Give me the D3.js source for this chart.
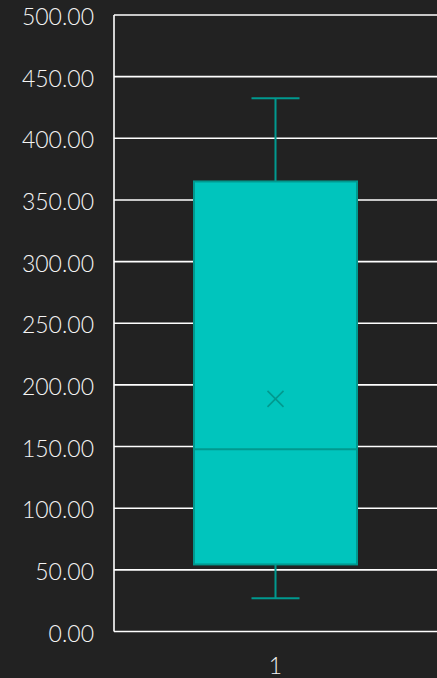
<!DOCTYPE html>
<html>
<head>
<meta charset="utf-8">
<script src="https://cdn.jsdelivr.net/npm/d3@7"></script>
<style>
  html, body { margin: 0; padding: 0; background: #222222; }
  svg { display: block; }
</style>
</head>
<body>
<script>
// box plot summary
var categories = ["1"];
var whiskerLow = [26.9];
var q1 = [54.4];
var median = [147.8];
var mean = [188.7];
var q3 = [365.0];
var whiskerHigh = [432.5];
var yTicks = [0, 50, 100, 150, 200, 250, 300, 350, 400, 450, 500];

var width = 437, height = 678;
var margin = {top: 15, right: 0, bottom: 46, left: 114};

var svg = d3.select("body").append("svg")
    .attr("width", width)
    .attr("height", height);

var x = d3.scaleBand()
    .domain(categories)
    .range([margin.left, width - margin.right])
    .paddingInner(0)
    .paddingOuter(0);

var y = d3.scaleLinear()
    .domain([0, 500])
    .range([height - margin.bottom - 0.5, margin.top]);

var fontFam = "'Century Gothic', 'Lato', 'Open Sans', sans-serif";

// gridlines
svg.append("g")
    .selectAll("line")
    .data(yTicks)
    .enter()
    .append("line")
    .attr("x1", margin.left)
    .attr("x2", width)
    .attr("y1", function(d) { return y(d); })
    .attr("y2", function(d) { return y(d); })
    .attr("stroke", "#ffffff")
    .attr("stroke-width", 1.6);

// y axis line
svg.append("line")
    .attr("x1", margin.left)
    .attr("x2", margin.left)
    .attr("y1", y(500))
    .attr("y2", y(0))
    .attr("stroke", "#ffffff")
    .attr("stroke-width", 1.6);

// y labels
svg.append("g")
    .selectAll("text")
    .data(yTicks)
    .enter()
    .append("text")
    .attr("x", 94)
    .attr("y", function(d) { return y(d) + 2; })
    .attr("dy", "0.35em")
    .attr("text-anchor", "end")
    .attr("fill", "#f4f4f4")
    .attr("font-family", fontFam)
    .attr("font-weight", 300)
    .attr("font-size", 23)
    .text(function(d) { return d3.format(".2f")(d); });

// x labels
svg.append("g")
    .selectAll("text")
    .data(categories)
    .enter()
    .append("text")
    .attr("x", function(d) { return x(d) + x.bandwidth() / 2; })
    .attr("y", 666)
    .attr("dy", "0.35em")
    .attr("text-anchor", "middle")
    .attr("fill", "#f4f4f4")
    .attr("font-family", fontFam)
    .attr("font-weight", 300)
    .attr("font-size", 23)
    .text(function(d) { return d; });

var boxW = 163, capW = 48;
var stroke = "#00998f";

var box = svg.append("g")
    .selectAll("g")
    .data(categories)
    .enter()
    .append("g");

// whiskers
box.append("line")
    .attr("x1", function(d) { return x(d) + x.bandwidth() / 2; })
    .attr("x2", function(d) { return x(d) + x.bandwidth() / 2; })
    .attr("y1", function(d, i) { return y(whiskerHigh[i]); })
    .attr("y2", function(d, i) { return y(whiskerLow[i]); })
    .attr("stroke", stroke)
    .attr("stroke-width", 2);

box.append("line")
    .attr("x1", function(d) { return x(d) + x.bandwidth() / 2 - capW / 2; })
    .attr("x2", function(d) { return x(d) + x.bandwidth() / 2 + capW / 2; })
    .attr("y1", function(d, i) { return y(whiskerHigh[i]); })
    .attr("y2", function(d, i) { return y(whiskerHigh[i]); })
    .attr("stroke", stroke)
    .attr("stroke-width", 2);

box.append("line")
    .attr("x1", function(d) { return x(d) + x.bandwidth() / 2 - capW / 2; })
    .attr("x2", function(d) { return x(d) + x.bandwidth() / 2 + capW / 2; })
    .attr("y1", function(d, i) { return y(whiskerLow[i]); })
    .attr("y2", function(d, i) { return y(whiskerLow[i]); })
    .attr("stroke", stroke)
    .attr("stroke-width", 2);

// box
box.append("rect")
    .attr("x", function(d) { return x(d) + x.bandwidth() / 2 - boxW / 2; })
    .attr("width", boxW)
    .attr("y", function(d, i) { return y(q3[i]); })
    .attr("height", function(d, i) { return y(q1[i]) - y(q3[i]); })
    .attr("fill", "#00c5bd")
    .attr("stroke", stroke)
    .attr("stroke-width", 2);

// median
box.append("line")
    .attr("x1", function(d) { return x(d) + x.bandwidth() / 2 - boxW / 2; })
    .attr("x2", function(d) { return x(d) + x.bandwidth() / 2 + boxW / 2; })
    .attr("y1", function(d, i) { return y(median[i]); })
    .attr("y2", function(d, i) { return y(median[i]); })
    .attr("stroke", stroke)
    .attr("stroke-width", 2);

// mean marker
box.append("path")
    .attr("transform", function(d, i) {
        return "translate(" + (x(d) + x.bandwidth() / 2) + "," + y(mean[i]) + ")";
    })
    .attr("d", "M-8,-8L8,8M-8,8L8,-8")
    .attr("stroke", stroke)
    .attr("stroke-width", 1.6)
    .attr("fill", "none");
</script>
</body>
</html>
